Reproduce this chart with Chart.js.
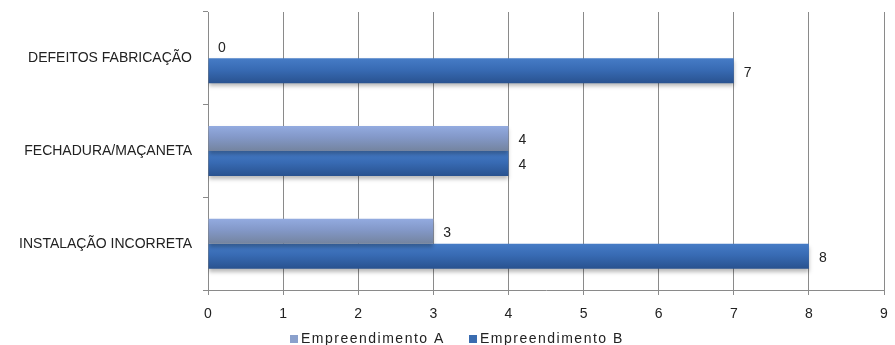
<!DOCTYPE html>
<html>
<head>
<meta charset="utf-8">
<script src="https://cdn.jsdelivr.net/npm/chart.js@4"></script>
<style>
  html, body { margin: 0; padding: 0; background: #fff; }
  #wrap { width: 895px; height: 345px; }
</style>
</head>
<body>
<div id="wrap"><canvas id="grafico"></canvas></div>
<script>
const categorias = ['DEFEITOS FABRICAÇÃO', 'FECHADURA/MAÇANETA', 'INSTALAÇÃO INCORRETA'];
const empreendimentoA = [0, 4, 3];
const empreendimentoB = [7, 4, 8];
const nomesSeries = ['Empreendimento A', 'Empreendimento B'];
const eixoX = { min: 0, max: 9, passo: 1 };

const catPct = 0.54;
const fonte = '"Liberation Sans", Arial, sans-serif';

// degrade vertical de cada barra, calculado a partir da escala y
function degrade(cores, solida) {
  return function (c) {
    const ch = c.chart;
    const y = ch.scales.y;
    if (!y || c.dataIndex === undefined) return solida;
    const centro = y.getPixelForValue(c.dataIndex);
    const faixa = Math.abs(y.getPixelForValue(1) - y.getPixelForValue(0));
    if (!isFinite(centro) || !isFinite(faixa) || faixa === 0) return solida;
    const esp = faixa * catPct / 2;
    const ini = c.datasetIndex === 0 ? centro - esp : centro;
    const g = ch.ctx.createLinearGradient(0, ini, 0, ini + esp);
    g.addColorStop(0, cores[0]);
    g.addColorStop(0.45, cores[1]);
    g.addColorStop(1, cores[2]);
    return g;
  };
}

// sombra leve abaixo das barras
const sombra = {
  id: 'sombra',
  beforeDatasetDraw(chart) {
    const ctx = chart.ctx;
    ctx.save();
    ctx.shadowColor = 'rgba(0,0,0,0.28)';
    ctx.shadowBlur = 4;
    ctx.shadowOffsetY = 3;
  },
  afterDatasetDraw(chart) {
    chart.ctx.restore();
  }
};

// valores no fim de cada barra
const rotulos = {
  id: 'rotulos',
  afterDatasetsDraw(chart) {
    const ctx = chart.ctx;
    ctx.save();
    ctx.font = '14px ' + fonte;
    ctx.fillStyle = '#222';
    ctx.textAlign = 'left';
    ctx.textBaseline = 'middle';
    chart.data.datasets.forEach((ds, i) => {
      chart.getDatasetMeta(i).data.forEach((bar, j) => {
        ctx.fillText(String(ds.data[j]), bar.x + 10, bar.y + 2);
      });
    });
    ctx.restore();
  }
};

// legenda embaixo
const legenda = {
  id: 'legenda',
  afterDraw(chart) {
    const ctx = chart.ctx;
    const pos = [290, 469];
    ctx.save();
    ctx.font = '14px ' + fonte;
    ctx.letterSpacing = '1.5px';
    ctx.textBaseline = 'middle';
    chart.data.datasets.forEach((ds, i) => {
      ctx.fillStyle = ds.corLegenda;
      ctx.fillRect(pos[i], 335, 8, 8);
      ctx.fillStyle = '#222';
      ctx.fillText(ds.label, pos[i] + 11, 339);
    });
    ctx.restore();
  }
};

new Chart(document.getElementById('grafico'), {
  type: 'bar',
  data: {
    labels: categorias,
    datasets: [{
      label: nomesSeries[0],
      data: empreendimentoA,
      backgroundColor: degrade(['#93abe0', '#8398c8', '#74849f'], '#8398c8'),
      corLegenda: '#8aa0cc',
      borderWidth: 0,
      categoryPercentage: catPct,
      barPercentage: 1
    }, {
      label: nomesSeries[1],
      data: empreendimentoB,
      backgroundColor: degrade(['#467cc6', '#386bb4', '#29528f'], '#386bb4'),
      corLegenda: '#3a6cb0',
      borderWidth: 0,
      categoryPercentage: catPct,
      barPercentage: 1
    }]
  },
  options: {
    indexAxis: 'y',
    responsive: true,
    maintainAspectRatio: false,
    animation: false,
    layout: { padding: { top: 12, right: 11, bottom: 20, left: 0 } },
    plugins: {
      legend: { display: false },
      tooltip: { enabled: false }
    },
    scales: {
      x: {
        min: eixoX.min,
        max: eixoX.max,
        ticks: { stepSize: eixoX.passo, color: '#222', font: { family: fonte, size: 14 }, padding: 11 },
        grid: { color: '#8a8a8a', tickLength: 5, drawTicks: true },
        border: { color: '#8a8a8a' },
        afterFit(s) { s.height = 35; s.paddingLeft = 0; s.paddingRight = 0; }
      },
      y: {
        ticks: { color: '#222', font: { family: fonte, size: 14 }, padding: 11 },
        grid: { offset: true, drawOnChartArea: false, tickLength: 5, color: '#8a8a8a' },
        border: { color: '#8a8a8a' },
        afterFit(s) { s.width = 208; s.paddingTop = 0; s.paddingBottom = 0; }
      }
    }
  },
  plugins: [sombra, rotulos, legenda]
});
</script>
</body>
</html>
